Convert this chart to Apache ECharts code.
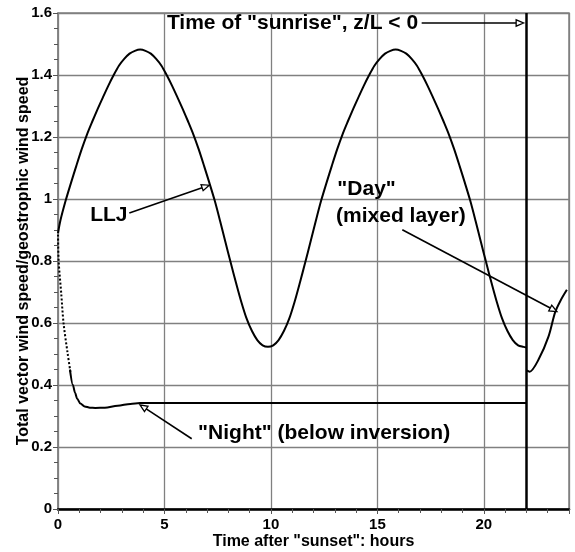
<!DOCTYPE html>
<html>
<head>
<meta charset="utf-8">
<script src="https://cdn.jsdelivr.net/npm/echarts@6/dist/echarts.min.js"></script>
<style>
html, body { margin: 0; padding: 0; background: #fff; }
#chart { width: 575px; height: 552px; }
</style>
</head>
<body>
<div id="chart"></div>
<script>
// Low-level jet: inertial oscillation of the wind above the inversion
const lljHours = [0, 0.11, 0.36, 0.61, 0.86, 1.11, 1.36, 1.61, 1.86, 2.11, 2.36, 2.61, 2.86, 3.11, 3.36, 3.61, 3.86,
  4.11, 4.36, 4.61, 4.86, 5.11, 5.36, 5.61, 5.86, 6.11, 6.36, 6.61, 6.86, 7.11, 7.36, 7.61, 7.86,
  8.11, 8.36, 8.61, 8.86, 9.11, 9.36, 9.61, 9.86,
  10.11, 10.36, 10.61, 10.86, 11.11, 11.36, 11.61, 11.86, 12.11, 12.36, 12.61, 12.86,
  13.11, 13.36, 13.61, 13.86, 14.11, 14.36, 14.61, 14.86, 15.11, 15.36, 15.61, 15.86,
  16.11, 16.36, 16.61, 16.86, 17.11, 17.36, 17.61, 17.86, 18.11, 18.36, 18.61, 18.86,
  19.11, 19.36, 19.61, 19.86, 20.11, 20.36, 20.61, 20.86, 21.11, 21.36, 21.61, 21.86, 22];
const lljSpeed = [0.89, 0.93, 0.995, 1.052, 1.107, 1.16, 1.208, 1.25, 1.29, 1.328, 1.365, 1.399, 1.43, 1.452, 1.469, 1.478, 1.482,
  1.478, 1.469, 1.452, 1.43, 1.399, 1.365, 1.328, 1.29, 1.25, 1.208, 1.16, 1.107, 1.052, 0.995, 0.93, 0.862,
  0.795, 0.73, 0.668, 0.614, 0.574, 0.545, 0.528, 0.523,
  0.528, 0.545, 0.574, 0.614, 0.668, 0.73, 0.795, 0.862, 0.93, 0.995, 1.052, 1.107,
  1.16, 1.208, 1.25, 1.29, 1.328, 1.365, 1.399, 1.43, 1.452, 1.469, 1.478, 1.482,
  1.478, 1.469, 1.452, 1.43, 1.399, 1.365, 1.328, 1.29, 1.25, 1.208, 1.16, 1.107,
  1.052, 0.995, 0.93, 0.862, 0.795, 0.73, 0.668, 0.614, 0.574, 0.545, 0.528, 0.523, 0.521];

// Below the inversion: rapid early decay (sparse output steps), then the slow approach
const nightFastHours = [0, 0.03, 0.15, 0.26, 0.45, 0.6];
const nightFastSpeed = [0.885, 0.8, 0.697, 0.6, 0.503, 0.435];
const nightHours = [0.56, 0.7, 0.8, 0.9, 1.05, 1.25, 1.5, 1.75, 2.2, 2.8, 3.4, 3.85, 22];
const nightSpeed = [0.45, 0.4, 0.375, 0.356, 0.34, 0.331, 0.327, 0.326, 0.327, 0.333, 0.339, 0.342, 0.342];

// Mixed layer after sunrise
const dayHours = [22, 22.15, 22.57, 23.04, 23.35, 23.6, 23.9];
const daySpeed = [0.447, 0.443, 0.482, 0.557, 0.635, 0.672, 0.707];

const sunriseHour = 22;
const xStep = 5;
const yStep = 0.2;

// Callouts (data units)
const noteTexts = ['Time of "sunrise", z/L < 0', 'LLJ', '"Day"', '(mixed layer)', '"Night" (below inversion)'];
const noteAt = [[5.115, 1.5665], [1.51, 0.949], [13.12, 1.031], [13.06, 0.944], [6.58, 0.245]];
const arrowFrom = [[17.08, 1.5677], [3.35, 0.955], [16.17, 0.901], [6.28, 0.2265]];
const arrowTo = [[21.87, 1.5677], [7.1, 1.0445], [23.43, 0.637], [3.85, 0.336]];

const FONT = '"Liberation Sans", Arial, Helvetica, sans-serif';
const zip = (xs, ys) => xs.map((x, i) => [x, ys[i]]);

function renderArrow(params, api) {
  const p1 = api.coord([api.value(0), api.value(1)]);
  const p2 = api.coord([api.value(2), api.value(3)]);
  const ang = Math.atan2(p2[1] - p1[1], p2[0] - p1[0]);
  const L = 7.5, W = 3.2;
  const bx = p2[0] - L * Math.cos(ang), by = p2[1] - L * Math.sin(ang);
  const nx = -Math.sin(ang), ny = Math.cos(ang);
  return {
    type: 'group',
    children: [
      { type: 'line', shape: { x1: p1[0], y1: p1[1], x2: bx, y2: by },
        style: { stroke: '#000', lineWidth: 1.6 } },
      { type: 'polygon', shape: { points: [[p2[0], p2[1]], [bx + nx * W, by + ny * W], [bx - nx * W, by - ny * W]] },
        style: { fill: '#fff', stroke: '#000', lineWidth: 1.3 } }
    ]
  };
}

function renderNote(params, api) {
  const p = api.coord([api.value(0), api.value(1)]);
  return {
    type: 'text', x: p[0], y: p[1],
    style: { text: noteTexts[params.dataIndex], fill: '#000',
      font: 'bold 21px ' + FONT, align: 'left', verticalAlign: 'middle' }
  };
}

const chart = echarts.init(document.getElementById('chart'), null, { renderer: 'canvas' });
chart.setOption({
  animation: false,
  backgroundColor: '#fff',
  grid: {
    left: 58, right: 6, top: 13, bottom: 43, containLabel: false, outerBoundsMode: 'none',
    show: true, borderColor: '#808080', borderWidth: 1.5, backgroundColor: 'transparent'
  },
  xAxis: {
    type: 'value', min: 0, max: 24, interval: xStep,
    name: 'Time after "sunset": hours', nameLocation: 'middle', nameGap: 25, nameMoveOverlap: false,
    nameTextStyle: { fontFamily: FONT, fontWeight: 'bold', fontSize: 16, color: '#000' },
    axisLine: { show: true, onZero: false, lineStyle: { color: '#000', width: 2.5 } },
    axisTick: { show: true, length: 5, lineStyle: { color: '#555', width: 1 } },
    minorTick: { show: true, splitNumber: 5, length: 4, lineStyle: { color: '#555', width: 1 } },
    splitLine: { show: true, lineStyle: { color: '#808080', width: 1.3 } },
    axisLabel: { fontFamily: FONT, fontWeight: 'bold', fontSize: 15, color: '#000', margin: 8, showMaxLabel: false }
  },
  yAxis: {
    type: 'value', min: 0, max: 1.6, interval: yStep,
    name: 'Total vector wind speed/geostrophic wind speed', nameLocation: 'middle', nameGap: 26, nameMoveOverlap: false,
    nameTextStyle: { fontFamily: FONT, fontWeight: 'bold', fontSize: 16, color: '#000' },
    axisLine: { show: true, onZero: false, lineStyle: { color: '#808080', width: 1.5 } },
    axisTick: { show: true, length: 5, lineStyle: { color: '#555', width: 1 } },
    minorTick: { show: true, splitNumber: 4, length: 4, lineStyle: { color: '#555', width: 1 } },
    splitLine: { show: true, lineStyle: { color: '#808080', width: 1.3 } },
    axisLabel: { fontFamily: FONT, fontWeight: 'bold', fontSize: 15, color: '#000', margin: 6 }
  },
  series: [
    {
      name: 'LLJ', type: 'line', data: zip(lljHours, lljSpeed), smooth: 0.3,
      showSymbol: false, lineStyle: { color: '#000', width: 2 }, z: 5,
      markLine: {
        silent: true, symbol: ['none', 'none'], label: { show: false },
        lineStyle: { color: '#000', width: 2.5, type: 'solid' },
        data: [{ xAxis: sunriseHour }]
      }
    },
    {
      name: 'NightFast', type: 'line', data: zip(nightFastHours, nightFastSpeed), smooth: 0.3,
      showSymbol: false, lineStyle: { color: '#000', width: 2, type: [2, 2] }, z: 5
    },
    {
      name: 'Night', type: 'line', data: zip(nightHours, nightSpeed), smooth: 0.3, smoothMonotone: 'x',
      showSymbol: false, lineStyle: { color: '#000', width: 2 }, z: 5
    },
    {
      name: 'Day', type: 'line', data: zip(dayHours, daySpeed), smooth: 0.3,
      showSymbol: false, lineStyle: { color: '#000', width: 2 }, z: 5
    },
    {
      type: 'custom', renderItem: renderArrow, clip: false, z: 6,
      encode: { x: [0, 2], y: [1, 3] },
      data: arrowFrom.map((a, i) => [a[0], a[1], arrowTo[i][0], arrowTo[i][1]])
    },
    {
      type: 'custom', renderItem: renderNote, clip: false, z: 7,
      encode: { x: 0, y: 1 },
      data: noteAt
    }
  ]
});
</script>
</body>
</html>
